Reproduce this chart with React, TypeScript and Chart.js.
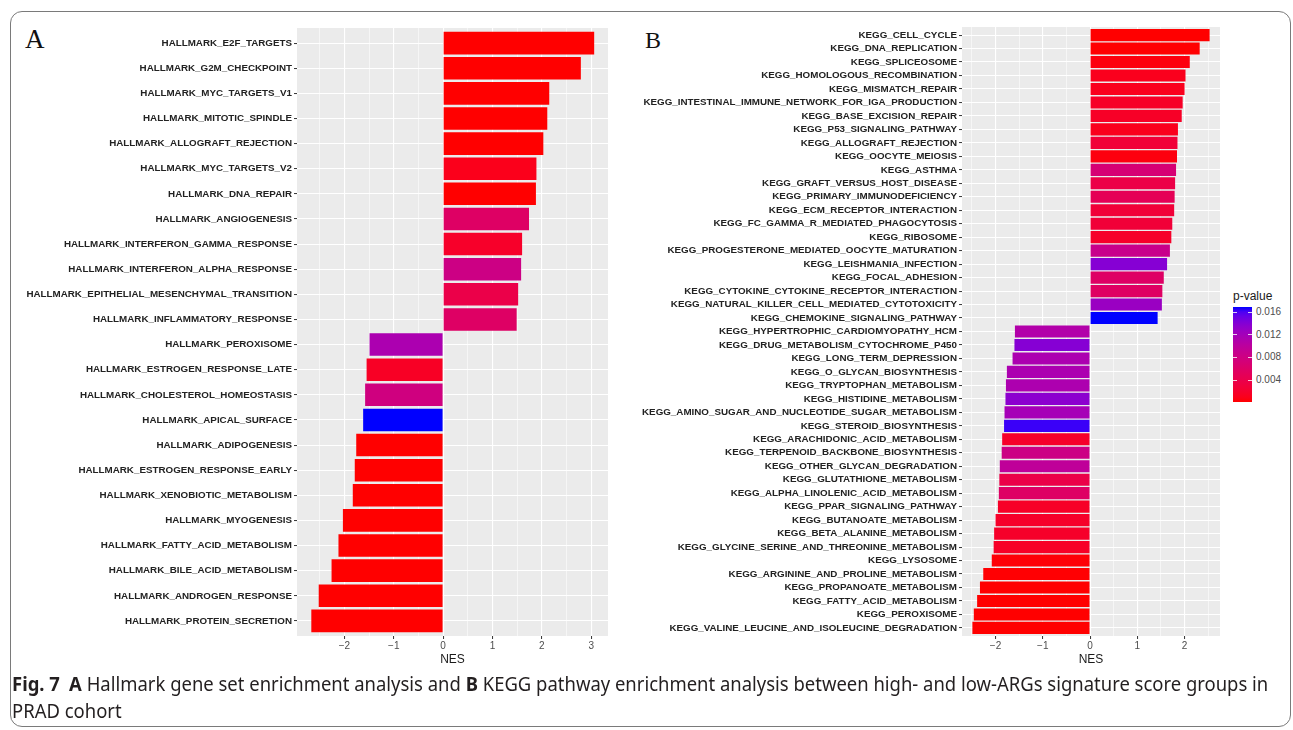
import React, { useEffect, useLayoutEffect, useRef, useState } from "react";
import { Chart, registerables } from "chart.js";

Chart.register(...registerables);

// ---------------- DATA ----------------
const hallmarkLabels = [
  "HALLMARK_E2F_TARGETS",
  "HALLMARK_G2M_CHECKPOINT",
  "HALLMARK_MYC_TARGETS_V1",
  "HALLMARK_MITOTIC_SPINDLE",
  "HALLMARK_ALLOGRAFT_REJECTION",
  "HALLMARK_MYC_TARGETS_V2",
  "HALLMARK_DNA_REPAIR",
  "HALLMARK_ANGIOGENESIS",
  "HALLMARK_INTERFERON_GAMMA_RESPONSE",
  "HALLMARK_INTERFERON_ALPHA_RESPONSE",
  "HALLMARK_EPITHELIAL_MESENCHYMAL_TRANSITION",
  "HALLMARK_INFLAMMATORY_RESPONSE",
  "HALLMARK_PEROXISOME",
  "HALLMARK_ESTROGEN_RESPONSE_LATE",
  "HALLMARK_CHOLESTEROL_HOMEOSTASIS",
  "HALLMARK_APICAL_SURFACE",
  "HALLMARK_ADIPOGENESIS",
  "HALLMARK_ESTROGEN_RESPONSE_EARLY",
  "HALLMARK_XENOBIOTIC_METABOLISM",
  "HALLMARK_MYOGENESIS",
  "HALLMARK_FATTY_ACID_METABOLISM",
  "HALLMARK_BILE_ACID_METABOLISM",
  "HALLMARK_ANDROGEN_RESPONSE",
  "HALLMARK_PROTEIN_SECRETION",
];
const hallmarkNES = [
  3.06, 2.79, 2.15, 2.11, 2.03, 1.89, 1.88, 1.74, 1.6, 1.58, 1.52, 1.49,
  -1.49, -1.55, -1.58, -1.62, -1.76, -1.79, -1.83, -2.03, -2.12, -2.26, -2.52, -2.67,
];
const hallmarkP = [
  0.0001, 0.0001, 0.0001, 0.0001, 0.0001, 0.0011, 0.0001, 0.0067, 0.002, 0.0094, 0.0044, 0.0067,
  0.0131, 0.0017, 0.009, 0.0195, 0.0001, 0.0001, 0.0001, 0.0001, 0.0001, 0.0001, 0.0001, 0.0001,
];

const keggLabels = [
  "KEGG_CELL_CYCLE",
  "KEGG_DNA_REPLICATION",
  "KEGG_SPLICEOSOME",
  "KEGG_HOMOLOGOUS_RECOMBINATION",
  "KEGG_MISMATCH_REPAIR",
  "KEGG_INTESTINAL_IMMUNE_NETWORK_FOR_IGA_PRODUCTION",
  "KEGG_BASE_EXCISION_REPAIR",
  "KEGG_P53_SIGNALING_PATHWAY",
  "KEGG_ALLOGRAFT_REJECTION",
  "KEGG_OOCYTE_MEIOSIS",
  "KEGG_ASTHMA",
  "KEGG_GRAFT_VERSUS_HOST_DISEASE",
  "KEGG_PRIMARY_IMMUNODEFICIENCY",
  "KEGG_ECM_RECEPTOR_INTERACTION",
  "KEGG_FC_GAMMA_R_MEDIATED_PHAGOCYTOSIS",
  "KEGG_RIBOSOME",
  "KEGG_PROGESTERONE_MEDIATED_OOCYTE_MATURATION",
  "KEGG_LEISHMANIA_INFECTION",
  "KEGG_FOCAL_ADHESION",
  "KEGG_CYTOKINE_CYTOKINE_RECEPTOR_INTERACTION",
  "KEGG_NATURAL_KILLER_CELL_MEDIATED_CYTOTOXICITY",
  "KEGG_CHEMOKINE_SIGNALING_PATHWAY",
  "KEGG_HYPERTROPHIC_CARDIOMYOPATHY_HCM",
  "KEGG_DRUG_METABOLISM_CYTOCHROME_P450",
  "KEGG_LONG_TERM_DEPRESSION",
  "KEGG_O_GLYCAN_BIOSYNTHESIS",
  "KEGG_TRYPTOPHAN_METABOLISM",
  "KEGG_HISTIDINE_METABOLISM",
  "KEGG_AMINO_SUGAR_AND_NUCLEOTIDE_SUGAR_METABOLISM",
  "KEGG_STEROID_BIOSYNTHESIS",
  "KEGG_ARACHIDONIC_ACID_METABOLISM",
  "KEGG_TERPENOID_BACKBONE_BIOSYNTHESIS",
  "KEGG_OTHER_GLYCAN_DEGRADATION",
  "KEGG_GLUTATHIONE_METABOLISM",
  "KEGG_ALPHA_LINOLENIC_ACID_METABOLISM",
  "KEGG_PPAR_SIGNALING_PATHWAY",
  "KEGG_BUTANOATE_METABOLISM",
  "KEGG_BETA_ALANINE_METABOLISM",
  "KEGG_GLYCINE_SERINE_AND_THREONINE_METABOLISM",
  "KEGG_LYSOSOME",
  "KEGG_ARGININE_AND_PROLINE_METABOLISM",
  "KEGG_PROPANOATE_METABOLISM",
  "KEGG_FATTY_ACID_METABOLISM",
  "KEGG_PEROXISOME",
  "KEGG_VALINE_LEUCINE_AND_ISOLEUCINE_DEGRADATION",
];
const keggNES = [
  2.53, 2.32, 2.11, 2.02, 2.0, 1.96, 1.94, 1.86, 1.85, 1.84, 1.82, 1.8, 1.79, 1.78, 1.74,
  1.72, 1.69, 1.63, 1.56, 1.53, 1.52, 1.43,
  -1.59, -1.6, -1.64, -1.76, -1.78, -1.79, -1.81, -1.82, -1.86, -1.87, -1.91, -1.92, -1.93,
  -1.95, -2.0, -2.03, -2.04, -2.08, -2.26, -2.33, -2.39, -2.46, -2.49,
];
const keggP = [
  0.00012, 0.00015, 0.0005, 0.0011, 0.0011, 0.0016, 0.0016, 0.0011, 0.0027, 0.0005, 0.007,
  0.0037, 0.0048, 0.0027, 0.0027, 0.0018, 0.0087, 0.0139, 0.0058, 0.0057, 0.0127, 0.0169,
  0.0109, 0.0139, 0.0114, 0.0114, 0.0113, 0.0136, 0.0119, 0.0164, 0.0018, 0.0082, 0.0097,
  0.0038, 0.0058, 0.0016, 0.0018, 0.0018, 0.0016, 0.0003, 0.0002, 0.00015, 0.00012, 0.00012,
  0.00012,
];

const xTicksA = [-2.5, -2, -1.5, -1, -0.5, 0, 0.5, 1, 1.5, 2, 2.5, 3];
const xTicksB = [-2.5, -2, -1.5, -1, -0.5, 0, 0.5, 1, 1.5, 2, 2.5];
const legendTicks = [0.004, 0.008, 0.012, 0.016];

// ---------------- COLOUR SCALE (red -> blue in CIELAB, like ggplot) ----------------
const Xn = 0.95047, Yn = 1.0, Zn = 1.08883;
const toLin = (c: number) => {
  const v = c / 255;
  return v <= 0.04045 ? v / 12.92 : Math.pow((v + 0.055) / 1.055, 2.4);
};
const toSrgb = (c: number) => {
  const v = c <= 0.0031308 ? 12.92 * c : 1.055 * Math.pow(Math.max(c, 0), 1 / 2.4) - 0.055;
  return Math.round(Math.min(1, Math.max(0, v)) * 255);
};
function rgbToLab(r: number, g: number, b: number) {
  const R = toLin(r), G = toLin(g), B = toLin(b);
  const X = 0.4124 * R + 0.3576 * G + 0.1805 * B;
  const Y = 0.2126 * R + 0.7152 * G + 0.0722 * B;
  const Z = 0.0193 * R + 0.1192 * G + 0.9505 * B;
  const f = (t: number) => (t > 216 / 24389 ? Math.cbrt(t) : ((24389 / 27) * t + 16) / 116);
  const fx = f(X / Xn), fy = f(Y / Yn), fz = f(Z / Zn);
  return [116 * fy - 16, 500 * (fx - fy), 200 * (fy - fz)];
}
function labToRgb(L: number, a: number, b: number) {
  const fy = (L + 16) / 116, fx = fy + a / 500, fz = fy - b / 200;
  const finv = (t: number) => (t * t * t > 216 / 24389 ? t * t * t : (116 * t - 16) / (24389 / 27));
  const X = Xn * finv(fx), Y = Yn * finv(fy), Z = Zn * finv(fz);
  const R = 3.2406 * X - 1.5372 * Y - 0.4986 * Z;
  const G = -0.9689 * X + 1.8758 * Y + 0.0415 * Z;
  const B = 0.0557 * X - 0.204 * Y + 1.057 * Z;
  return [toSrgb(R), toSrgb(G), toSrgb(B)];
}
const LAB_LOW = rgbToLab(255, 0, 0);
const LAB_HIGH = rgbToLab(0, 0, 255);
function rampColor(t: number) {
  const u = Math.min(1, Math.max(0, t));
  const L = LAB_LOW[0] + (LAB_HIGH[0] - LAB_LOW[0]) * u;
  const a = LAB_LOW[1] + (LAB_HIGH[1] - LAB_LOW[1]) * u;
  const b = LAB_LOW[2] + (LAB_HIGH[2] - LAB_LOW[2]) * u;
  const [r, g, bb] = labToRgb(L, a, b);
  return `rgb(${r},${g},${bb})`;
}
function colorsFor(p: number[]) {
  const lo = Math.min(...p), hi = Math.max(...p);
  return p.map((v) => rampColor((v - lo) / (hi - lo)));
}

// ---------------- CHART HELPERS ----------------
const SANS = "'Liberation Sans', Arial, Helvetica, sans-serif";
const isMajor = (v: number) => Math.abs(v - Math.round(v)) < 1e-9;
const fmt = (v: number) => (v < 0 ? "\u2212" + Math.abs(v) : String(v));

const panelBg = {
  id: "panelBg",
  beforeDraw(chart: any) {
    const { ctx, chartArea: a } = chart;
    ctx.save();
    ctx.fillStyle = "#EBEBEB";
    ctx.fillRect(a.left, a.top, a.right - a.left, a.bottom - a.top);
    ctx.restore();
  },
};

function buildConfig(
  labels: string[],
  nes: number[],
  pvals: number[],
  xMin: number,
  xMax: number,
  xTicks: number[],
  yWidth: number,
  padding: { left: number; right: number; top: number; bottom: number }
) {
  const n = labels.length;
  return {
    type: "bar" as const,
    data: {
      datasets: [
        {
          data: nes.map((v, i) => ({ x: v, y: i })),
          backgroundColor: colorsFor(pvals),
          borderWidth: 0,
          barPercentage: 0.9,
          categoryPercentage: 1,
        },
      ],
    },
    options: {
      indexAxis: "y" as const,
      responsive: false,
      animation: false as const,
      layout: { padding },
      plugins: {
        legend: { display: false },
        tooltip: { enabled: false },
      },
      scales: {
        x: {
          type: "linear" as const,
          min: xMin,
          max: xMax,
          offset: false,
          afterBuildTicks: (s: any) => {
            s.ticks = xTicks.map((v) => ({ value: v }));
          },
          afterFit: (s: any) => {
            s.height = 44;
          },
          border: { display: false },
          grid: {
            offset: false,
            color: "#FFFFFF",
            lineWidth: (c: any) => (c.tick && isMajor(c.tick.value) ? 1.1 : 0.55),
            drawTicks: true,
            tickLength: 3,
            tickWidth: 1,
            tickColor: (c: any) => (c.tick && isMajor(c.tick.value) ? "#333333" : "rgba(0,0,0,0)"),
          },
          ticks: {
            autoSkip: false,
            maxRotation: 0,
            padding: 1,
            color: "#4D4D4D",
            font: { family: SANS, size: 10 },
            callback: (v: any) => (isMajor(Number(v)) ? fmt(Number(v)) : ""),
          },
          title: {
            display: true,
            text: "NES",
            color: "#1A1A1A",
            font: { family: SANS, size: 12 },
            padding: { top: 0, bottom: 12.8 },
          },
        },
        y: {
          type: "linear" as const,
          reverse: true,
          offset: false,
          min: -0.6,
          max: n - 1 + 0.6,
          afterBuildTicks: (s: any) => {
            s.ticks = labels.map((_, i) => ({ value: i }));
          },
          afterFit: (s: any) => {
            s.width = yWidth;
          },
          border: { display: false },
          grid: {
            offset: false,
            color: "#FFFFFF",
            lineWidth: 1.1,
            drawTicks: true,
            tickLength: 3,
            tickWidth: 1,
            tickColor: "#333333",
          },
          ticks: {
            autoSkip: false,
            padding: 2,
            color: "#222222",
            font: { family: SANS, size: 9.8, weight: "bold" as const },
            callback: (v: any) => labels[Math.round(Number(v))] ?? "",
          },
        },
      },
    },
    plugins: [panelBg],
  };
}

function BarPanel(props: {
  labels: string[];
  nes: number[];
  pvals: number[];
  xMin: number;
  xMax: number;
  xTicks: number[];
  yWidth: number;
  left: number;
  width: number;
  height: number;
  padding: { left: number; right: number; top: number; bottom: number };
}) {
  const ref = useRef<HTMLCanvasElement>(null);
  useEffect(() => {
    if (!ref.current) return;
    const chart = new Chart(
      ref.current,
      buildConfig(
        props.labels,
        props.nes,
        props.pvals,
        props.xMin,
        props.xMax,
        props.xTicks,
        props.yWidth,
        props.padding
      ) as any
    );
    return () => chart.destroy();
  }, []);
  return (
    <canvas
      ref={ref}
      width={props.width}
      height={props.height}
      style={{ position: "absolute", left: props.left, top: 0, width: props.width, height: props.height }}
    />
  );
}

function PLegend() {
  const lo = Math.min(...keggP);
  const hi = Math.max(...keggP);
  const barTop = 307;
  const barH = 95;
  const barLeft = 1233;
  const barW = 19;
  const stops: string[] = [];
  for (let i = 0; i <= 20; i++) {
    stops.push(`${rampColor(i / 20)} ${(i / 20) * 100}%`);
  }
  const yOf = (p: number) => barTop + barH - ((p - lo) / (hi - lo)) * barH;
  return (
    <>
      <div
        style={{
          position: "absolute",
          left: barLeft,
          top: 289,
          fontFamily: SANS,
          fontSize: 12,
          lineHeight: "14px",
          color: "#1A1A1A",
          whiteSpace: "nowrap",
        }}
      >
        p-value
      </div>
      <div
        style={{
          position: "absolute",
          left: barLeft,
          top: barTop,
          width: barW,
          height: barH,
          background: `linear-gradient(to top, ${stops.join(", ")})`,
        }}
      />
      {legendTicks.map((t) => (
        <React.Fragment key={t}>
          <div style={{ position: "absolute", left: barLeft, top: yOf(t) - 0.5, width: 4, height: 1, background: "rgba(255,255,255,0.8)" }} />
          <div style={{ position: "absolute", left: barLeft + barW - 4, top: yOf(t) - 0.5, width: 4, height: 1, background: "rgba(255,255,255,0.8)" }} />
          <div
            style={{
              position: "absolute",
              left: barLeft + barW + 4,
              top: yOf(t) - 6,
              fontFamily: SANS,
              fontSize: 10,
              lineHeight: "12px",
              color: "#4D4D4D",
              whiteSpace: "nowrap",
            }}
          >
            {t.toFixed(3)}
          </div>
        </React.Fragment>
      ))}
    </>
  );
}

function Caption() {
  const ref = useRef<HTMLSpanElement>(null);
  const [scale, setScale] = useState(1);
  useLayoutEffect(() => {
    if (ref.current) {
      const w = ref.current.offsetWidth;
      if (w > 0) setScale(1256 / w);
    }
  }, []);
  return (
    <div
      style={{
        position: "absolute",
        left: 12,
        top: 671,
        fontFamily: "'Noto Sans', 'Open Sans', sans-serif",
        fontSize: 19,
        lineHeight: "27px",
        color: "#231F20",
        whiteSpace: "nowrap",
        transform: `scaleX(${scale})`,
        transformOrigin: "0 0",
      }}
    >
      <span ref={ref} style={{ display: "inline-block" }}>
        <b>Fig. 7</b>
        {"\u2002"}
        <b>A</b> Hallmark gene set enrichment analysis and <b>B</b> KEGG pathway enrichment analysis between
        high- and low-ARGs signature score groups in
      </span>
      <br />
      <span>PRAD cohort</span>
    </div>
  );
}

export default function App() {
  return (
    <div
      style={{
        position: "absolute",
        left: 0,
        top: 0,
        width: 1293,
        height: 730,
        overflow: "hidden",
        background: "#FFFFFF",
      }}
    >
      <div
        style={{
          position: "absolute",
          left: 10,
          top: 11,
          width: 1281,
          height: 716,
          border: "1px solid #7A7A7A",
          borderRadius: 12,
          boxSizing: "border-box",
        }}
      />
      <div
        style={{
          position: "absolute",
          left: 25,
          top: 22,
          fontFamily: "'Liberation Serif', 'Times New Roman', serif",
          fontSize: 27,
          lineHeight: "34px",
          color: "#111",
        }}
      >
        A
      </div>
      <div
        style={{
          position: "absolute",
          left: 645,
          top: 25,
          fontFamily: "'Liberation Serif', 'Times New Roman', serif",
          fontSize: 24,
          lineHeight: "30px",
          color: "#111",
        }}
      >
        B
      </div>
      <BarPanel
        labels={hallmarkLabels}
        nes={hallmarkNES}
        pvals={hallmarkP}
        xMin={-2.96}
        xMax={3.34}
        xTicks={xTicksA}
        yWidth={297}
        left={0}
        width={620}
        height={680}
        padding={{ left: 0, right: 12, top: 28, bottom: 0 }}
      />
      <BarPanel
        labels={keggLabels}
        nes={keggNES}
        pvals={keggP}
        xMin={-2.71}
        xMax={2.75}
        xTicks={xTicksB}
        yWidth={342}
        left={620}
        width={605}
        height={680}
        padding={{ left: 0, right: 5, top: 27, bottom: 0 }}
      />
      <PLegend />
      <Caption />
    </div>
  );
}
